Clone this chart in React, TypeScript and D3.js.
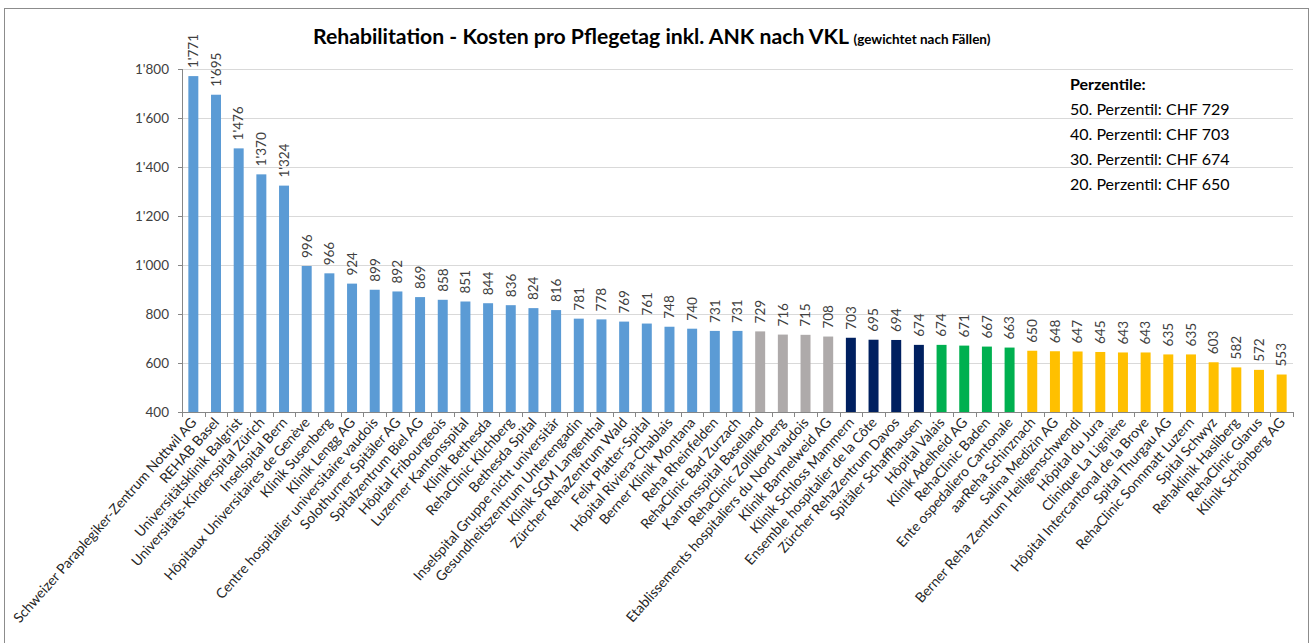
import React from "react";
import * as d3 from "d3";

// hospitals, sorted by cost
const categories = [
  "Schweizer Paraplegiker-Zentrum Nottwil AG", "REHAB Basel", "Universitätsklinik Balgrist",
  "Universitäts-Kinderspital Zürich", "Inselspital Bern", "Hôpitaux Universitaires de Genève",
  "Klinik Susenberg", "Klinik Lengg AG", "Centre hospitalier universitaire vaudois",
  "Solothurner Spitäler AG", "Spitalzentrum Biel AG", "Hôpital Fribourgeois",
  "Luzerner Kantonsspital", "Klinik Bethesda", "RehaClinic Kilchberg", "Bethesda Spital",
  "Inselspital Gruppe nicht universitär", "Gesundheitszentrum Unterengadin",
  "Klinik SGM Langenthal", "Zürcher RehaZentrum Wald", "Felix Platter-Spital",
  "Hôpital Riviera-Chablais", "Berner Klinik Montana", "Reha Rheinfelden",
  "RehaClinic Bad Zurzach", "Kantonsspital Baselland", "RehaClinic Zollikerberg",
  "Etablissements hospitaliers du Nord vaudois", "Klinik Barmelweid AG",
  "Klinik Schloss Mammern", "Ensemble hospitalier de la Côte", "Zürcher RehaZentrum Davos",
  "Spitäler Schaffhausen", "Hôpital Valais", "Klinik Adelheid AG", "RehaClinic Baden",
  "Ente ospedaliero Cantonale", "aarReha Schinznach", "Salina Medizin AG",
  "Berner Reha Zentrum Heiligenschwendi", "Hôpital du Jura", "Clinique La Lignière",
  "Hôpital Intercantonal de la Broye", "Spital Thurgau AG", "RehaClinic Sonnmatt Luzern",
  "Spital Schwyz", "Rehaklinik Hasliberg", "RehaClinic Glarus", "Klinik Schönberg AG",
];

const values = [
  1771, 1695, 1476, 1370, 1324, 996, 966, 924, 899, 892, 869, 858, 851, 844, 836, 824,
  816, 781, 778, 769, 761, 748, 740, 731, 731, 729, 716, 715, 708, 703, 695, 694, 674,
  674, 671, 667, 663, 650, 648, 647, 645, 643, 643, 635, 635, 603, 582, 572, 553,
];

// percentile group of each bar: 0 = above 50., 1 = 40-50, 2 = 30-40, 3 = 20-30, 4 = below
const groups = [
  0, 0, 0, 0, 0, 0, 0, 0, 0, 0, 0, 0, 0, 0, 0, 0, 0, 0, 0, 0, 0, 0, 0, 0, 0,
  1, 1, 1, 1, 2, 2, 2, 2, 3, 3, 3, 3, 4, 4, 4, 4, 4, 4, 4, 4, 4, 4, 4, 4,
];
const groupColors = ["#5B9BD5", "#AEAAAA", "#002060", "#00B050", "#FFC000"];

const yTicks = [400, 600, 800, 1000, 1200, 1400, 1600, 1800];

const percentileLines = [
  "50. Perzentil: CHF 729",
  "40. Perzentil: CHF 703",
  "30. Perzentil: CHF 674",
  "20. Perzentil: CHF 650",
];

const W = 1311;
const H = 643;
const left = 182, right = 1293, top = 69, bottom = 412;
const font = "Lato, 'Open Sans', sans-serif";

const fmt = d3.formatLocale({ decimal: ".", thousands: "'", grouping: [3], currency: ["", ""] }).format(",d");

export default function App() {
  const x = d3.scaleBand<string>().domain(categories).range([left, right]).paddingInner(0.56).paddingOuter(0.28);
  const y = d3.scaleLinear().domain([400, 1800]).range([bottom, top]);
  const bounds = d3.range(categories.length + 1).map((i) => left + (right - left) * i / categories.length);

  return (
    <svg width={W} height={H} style={{ position: "absolute", left: 0, top: 0, background: "#fff" }} fontFamily={font}>
      <rect x={4.5} y={8.5} width={1304} height={660} fill="#fff" stroke="#8c8c8c" strokeWidth={1} />

      {/* gridlines */}
      {yTicks.slice(1).map((t) => (
        <line key={t} x1={left} x2={right} y1={Math.round(y(t)) + 0.5} y2={Math.round(y(t)) + 0.5} stroke="#d9d9d9" />
      ))}

      {/* bars */}
      {categories.map((c, i) => (
        <rect key={c} x={x(c)} y={y(values[i])} width={x.bandwidth()} height={bottom - y(values[i])} fill={groupColors[groups[i]]} />
      ))}

      {/* value labels */}
      {categories.map((c, i) => {
        const cx = (x(c) as number) + x.bandwidth() / 2 + 4.8;
        const cy = y(values[i]) - 8;
        return (
          <text key={c} transform={`translate(${cx},${cy}) rotate(-90)`} fontSize={13.5} fill="#404040">
            {fmt(values[i])}
          </text>
        );
      })}

      {/* y axis */}
      <line x1={left + 0.5} x2={left + 0.5} y1={top} y2={bottom} stroke="#868686" />
      {yTicks.map((t) => (
        <g key={t}>
          <line x1={left - 4} x2={left} y1={Math.round(y(t)) + 0.5} y2={Math.round(y(t)) + 0.5} stroke="#868686" />
          <text x={169} y={y(t) + 4.5} textAnchor="end" fontSize={13.5} fill="#404040">{fmt(t)}</text>
        </g>
      ))}

      {/* x axis */}
      <line x1={left} x2={right} y1={bottom + 0.5} y2={bottom + 0.5} stroke="#868686" />
      {bounds.map((b, i) => (
        <line key={i} x1={Math.round(b) + 0.5} x2={Math.round(b) + 0.5} y1={bottom} y2={bottom + 5} stroke="#868686" />
      ))}
      {categories.map((c) => {
        const cx = (x(c) as number) + x.bandwidth() / 2 + 4;
        return (
          <text key={c} transform={`translate(${cx},${bottom + 11}) rotate(-48.5)`} textAnchor="end" fontSize={13.9} fill="#262626">
            {c}
          </text>
        );
      })}

      {/* title */}
      <text x={313} y={44} fontSize={21.2} fontWeight="bold" fill="#000">
        Rehabilitation - Kosten pro Pflegetag inkl. ANK nach VKL{" "}
        <tspan fontSize={13.5}>(gewichtet nach Fällen)</tspan>
      </text>

      {/* percentile box */}
      <text x={1070} y={90} fontSize={16} fontWeight="bold" fill="#000">Perzentile:</text>
      {percentileLines.map((l, i) => (
        <text key={l} x={1070} y={115 + i * 25} fontSize={16} fill="#000">{l}</text>
      ))}
    </svg>
  );
}
